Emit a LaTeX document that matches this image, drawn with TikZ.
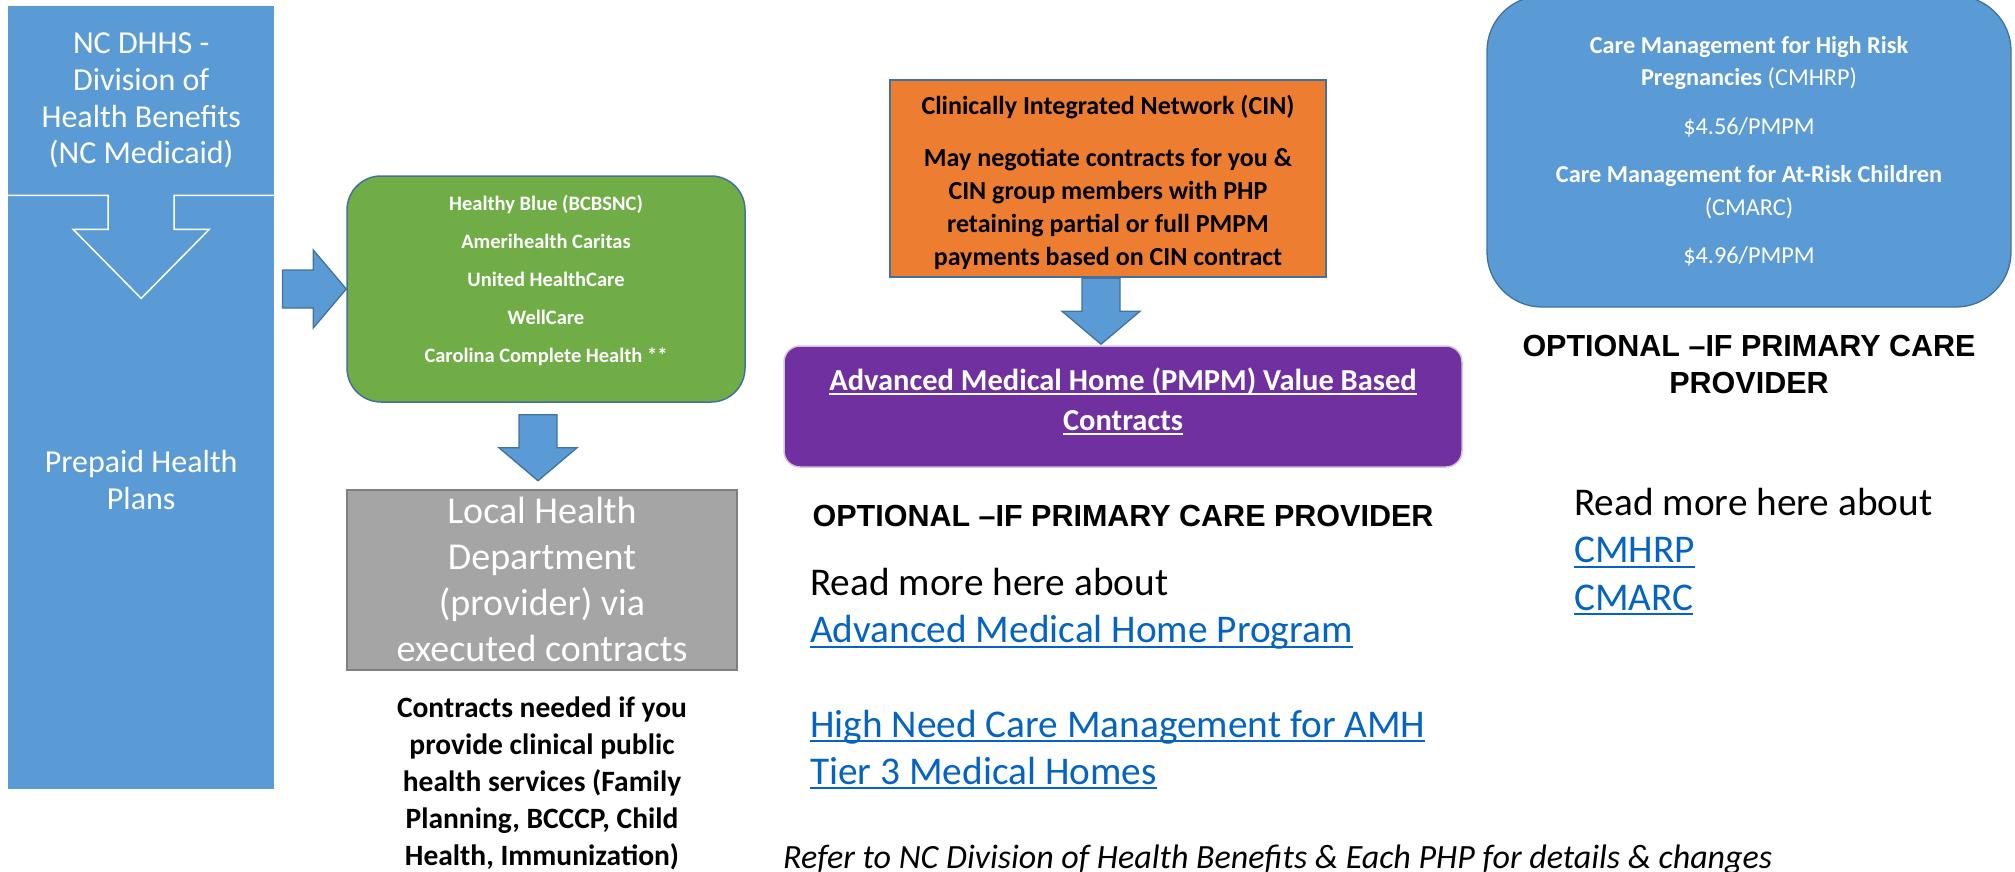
\documentclass[tikz,border=0pt]{standalone}
\usepackage{fontspec}
\setmainfont{Carlito}
\newfontfamily\arialfont{Liberation Sans}
\usetikzlibrary{positioning,calc}

\definecolor{plblue}{RGB}{91,155,213}
\definecolor{edgeblue}{RGB}{65,113,156}
\definecolor{plgreen}{RGB}{112,173,71}
\definecolor{plgray}{RGB}{165,165,165}
\definecolor{grayedge}{RGB}{127,127,127}
\definecolor{plorange}{RGB}{237,125,49}
\definecolor{plpurple}{RGB}{112,48,160}
\definecolor{linkblue}{RGB}{5,99,193}

\newcommand\setfs[2]{\fontsize{#1}{#2}\selectfont}
\newsavebox\undlbox
\newcommand\undl[1]{\sbox\undlbox{#1}\rlap{\rule[-0.12em]{\wd\undlbox}{0.05em}}\usebox\undlbox}

% block arrows, from the middle of the tail to the tip
\newcommand\downblock[2]{%
	\draw[blockarrow] let \p1=#1, \p2=#2 in
		(\x1-19pt,\y1) -- (\x1+19pt,\y1) -- (\x1+19pt,\y2+33pt) -- (\x1+39pt,\y2+33pt)
		-- (\x1,\y2) -- (\x1-39pt,\y2+33pt) -- (\x1-19pt,\y2+33pt) -- cycle;}
\newcommand\rightblock[2]{%
	\draw[blockarrow] let \p1=#1, \p2=#2 in
		(\x1,\y2+19pt) -- (\x2-33pt,\y2+19pt) -- (\x2-33pt,\y2+39pt) -- (\x2,\y2)
		-- (\x2-33pt,\y2-39pt) -- (\x2-33pt,\y2-19pt) -- (\x1,\y2-19pt) -- cycle;}

\begin{document}
\begin{tikzpicture}[x=1pt, y=-1pt,
		leftblock/.style={fill=plblue, minimum width=266, inner sep=0, anchor=north west,
			text=white, align=center, font=\setfs{32}{36.7}},
		blockarrow/.style={fill=plblue, draw=edgeblue, line width=1.3},
		greenbox/.style={fill=plgreen, draw=edgeblue, line width=1.5, rounded corners=34,
			minimum width=398, minimum height=226},
		lhdbox/.style={fill=plgray, draw=grayedge, line width=1.8, minimum width=390,
			minimum height=180, inner sep=0, text=white, align=center, font=\setfs{38}{46}},
		cinbox/.style={fill=plorange, draw=edgeblue, line width=2.5, minimum width=436,
			minimum height=197, inner sep=0},
		amhbox/.style={fill=plpurple, draw=plpurple!30!white, line width=1.5, rounded corners=16,
			minimum width=678, minimum height=121, inner sep=0},
		cmbox/.style={fill=plblue, draw=edgeblue, line width=1.3, rounded corners=55,
			minimum width=524, minimum height=311, inner sep=0, text=white, align=center,
			font=\setfs{24.3}{32.5}},
		optional/.style={inner sep=0, align=center, font={\arialfont\bfseries\setfs{30.5}{37}}},
		readmore/.style={inner sep=0, align=left, anchor=north west, font=\setfs{39.3}{47.3}}]

	\useasboundingbox (0,0) rectangle (2015,872);
	\clip (0,0) rectangle (2015,872);

	% NC Medicaid
	\node[leftblock, minimum height=189] (dhhs) at (8,6)
		{NC DHHS -\\Division of\\Health Benefits\\(NC Medicaid)};
	\node[leftblock, minimum height=594] (plans) at (8,195) {};
	\draw[white, line width=1.5] (dhhs.south west) -- ($(dhhs.south)+(-33,0)$) -- ++(0,34)
		-- ++(-35,0) -- ($(dhhs.south)+(0,103)$) -- ($(dhhs.south)+(68,34)$) -- ++(-35,0)
		-- ++(0,-34) -- (dhhs.south east);
	\node[text=white, align=center, font=\setfs{32}{36.7}] (planstext)
		at ($(plans.center)+(0,-12)$) {Prepaid Health\\Plans};

	% health plans
	\node[greenbox] (php) at (546,289) {};
	\node[text=white, align=center, font={\bfseries\setfs{20.5}{38}}] (phptext)
		at ($(php.center)+(0,-8)$)
		{Healthy Blue (BCBSNC)\\Amerihealth Caritas\\United HealthCare\\WellCare\\Carolina Complete Health **};
	\rightblock{($(plans.east)+(8,0)$)}{(php.west)}

	% local health department
	\node[lhdbox, below=86pt of php, xshift=-4pt] (lhd)
		{Local Health\\Department\\(provider) via\\executed contracts};
	\downblock{($(php.south)+(-8,12)$)}{($(lhd.north)+(0,-8)$)}
	\node[align=center, inner sep=0, font={\bfseries\setfs{29.5}{37}}, below=26pt of lhd] (needs)
		{Contracts needed if you\\provide clinical public\\health services (Family\\Planning, BCCCP, Child\\Health, Immunization)};

	% CIN and AMH
	\node[cinbox] (cin) at (1108,178.5) {};
	\node[align=center, inner sep=0, font={\bfseries\setfs{26}{33}}] (cintext)
		at ($(cin.center)+(0,4)$)
		{Clinically Integrated Network (CIN)\\[19pt]May negotiate contracts for you \&\\CIN group members with PHP\\retaining partial or full PMPM\\payments based on CIN contract};
	\node[amhbox, below=67pt of cin, xshift=15pt] (amh) {};
	\node[align=center, inner sep=0, text=white, font={\bfseries\setfs{30.5}{40}}] (amhtext)
		at ($(amh.center)+(0,-5)$)
		{\undl{Advanced Medical Home (PMPM) Value Based}\\\undl{Contracts}};
	\downblock{($(cin.south)+(-7,0)$)}{($(amh.north)+(0,-1)$)}
	\node[optional, below=37pt of amh] (opt1) {OPTIONAL –IF PRIMARY CARE PROVIDER};
	\node[readmore] (readamh) at (810,568)
		{Read more here about\\\textcolor{linkblue}{\undl{Advanced Medical Home Program}}\\[47.3pt]%
		\textcolor{linkblue}{\undl{High Need Care Management for AMH}}\\\textcolor{linkblue}{\undl{Tier 3 Medical Homes}}};

	% care management
	\node[cmbox] (cm) at (1749,151.5)
		{\textbf{Care Management for High Risk}\\\textbf{Pregnancies} (CMHRP)\\[16pt]\$4.56/PMPM\\[16pt]%
		\textbf{Care Management for At-Risk Children}\\(CMARC)\\[16pt]\$4.96/PMPM};
	\node[optional, below=27pt of cm] (opt2) {OPTIONAL –IF PRIMARY CARE\\PROVIDER};
	\node[readmore] (readcm) at (1574,488)
		{Read more here about\\\textcolor{linkblue}{\undl{CMHRP}}\\\textcolor{linkblue}{\undl{CMARC}}};

	% footnote
	\node[anchor=base west, inner sep=0, font={\itshape\setfs{34}{40}}] (refer) at (783,868)
		{Refer to NC Division of Health Benefits \& Each PHP for details \& changes};

\end{tikzpicture}
\end{document}
